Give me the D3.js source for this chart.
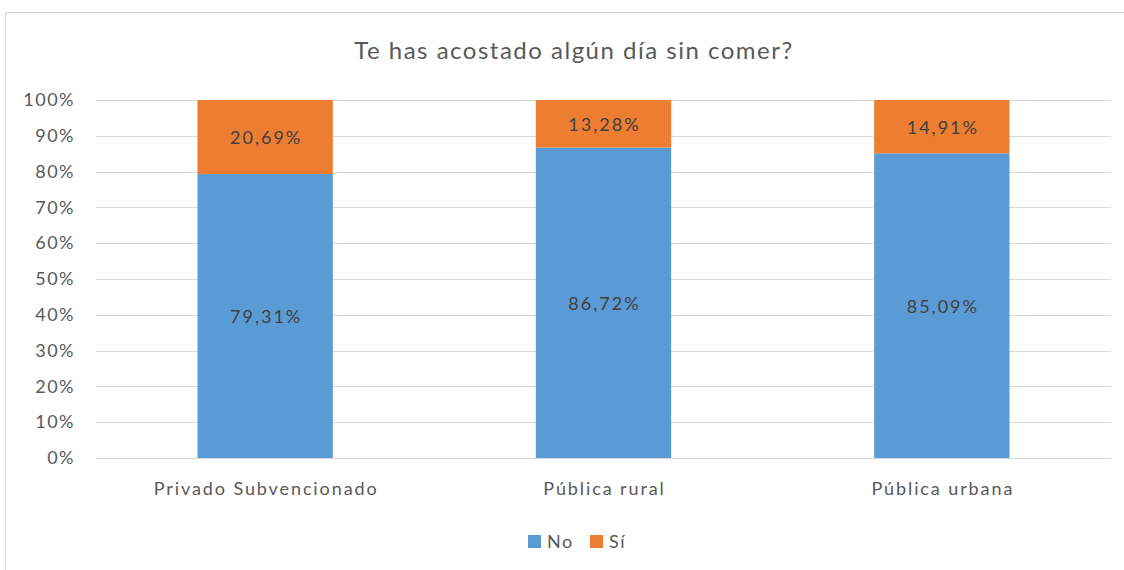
<!DOCTYPE html>
<html>
<head>
<meta charset="utf-8">
<script src="https://cdn.jsdelivr.net/npm/d3@7"></script>
<style>
  body { margin: 0; background: #fff; }
  svg { display: block; font-family: Lato, "Open Sans", sans-serif; }
</style>
</head>
<body>
<div id="chart"></div>
<script>
"use strict";
const categories = ["Privado Subvencionado", "Pública rural", "Pública urbana"];
const seriesNames = ["No", "Sí"];
const noValues = [79.31, 86.72, 85.09];
const siValues = [20.69, 13.28, 14.91];
const yTicks = [0, 10, 20, 30, 40, 50, 60, 70, 80, 90, 100];
const colors = ["#5b9bd5", "#ed7d31"];

const width = 1124, height = 570;
const margin = {left: 96, right: 13, top: 100, bottom: 112};

const svg = d3.select("#chart").append("svg")
    .attr("width", width)
    .attr("height", height);

// chart border
svg.append("rect")
    .attr("x", 5.5).attr("y", 12.5)
    .attr("width", 1130).attr("height", 600)
    .attr("fill", "none")
    .attr("stroke", "#d9d9d9");

svg.append("text")
    .attr("x", 574).attr("y", 59)
    .attr("text-anchor", "middle")
    .attr("fill", "#595959")
    .style("font-size", "24px")
    .style("letter-spacing", "1.5px")
    .text("Te has acostado algún día sin comer?");

const x = d3.scaleBand()
    .domain(categories)
    .range([margin.left, width - margin.right])
    .paddingInner(0.6).paddingOuter(0.3);
const y = d3.scaleLinear().domain([0, 100]).range([height - margin.bottom, margin.top]);

// gridlines
svg.append("g").selectAll("line")
    .data(yTicks)
    .enter().append("line")
    .attr("x1", margin.left).attr("x2", width - margin.right)
    .attr("y1", d => Math.round(y(d)) + 0.5).attr("y2", d => Math.round(y(d)) + 0.5)
    .attr("stroke", "#d9d9d9");

const yAxis = d3.axisLeft(y).tickValues(yTicks).tickFormat(d => d + "%").tickSize(0).tickPadding(21);
const yG = svg.append("g").attr("transform", "translate(" + margin.left + ",0)").call(yAxis);
yG.select(".domain").remove();
yG.selectAll("text").attr("fill", "#595959")
    .style("font-size", "18px").style("font-family", "Lato, sans-serif").style("letter-spacing", "1.5px");

const xAxis = d3.axisBottom(x).tickSize(0).tickPadding(24);
const xG = svg.append("g").attr("transform", "translate(0," + (height - margin.bottom) + ")").call(xAxis);
xG.select(".domain").remove();
xG.selectAll("text").attr("fill", "#595959").attr("dx", "1px")
    .style("font-size", "18px").style("font-family", "Lato, sans-serif").style("letter-spacing", "1.9px");

const stacked = d3.stack().keys([0, 1])(categories.map((c, i) => [noValues[i], siValues[i]]));

stacked.forEach((layer, k) => {
    const g = svg.append("g");
    g.selectAll("rect")
        .data(layer)
        .enter().append("rect")
        .attr("x", (d, i) => x(categories[i]))
        .attr("width", x.bandwidth())
        .attr("y", d => y(d[1]))
        .attr("height", d => y(d[0]) - y(d[1]))
        .attr("fill", colors[k]);
    g.selectAll("text")
        .data(layer)
        .enter().append("text")
        .attr("x", (d, i) => x(categories[i]) + x.bandwidth() / 2 + 1)
        .attr("y", d => (y(d[0]) + y(d[1])) / 2 + 7)
        .attr("text-anchor", "middle")
        .attr("fill", "#404040")
        .style("font-size", "18px")
        .style("letter-spacing", "2px")
        .text(d => (d[1] - d[0]).toFixed(2).replace(".", ",") + "%");
});

// legend
const legend = svg.append("g");
const legendX = [528, 590];
seriesNames.forEach((name, i) => {
    legend.append("rect")
        .attr("x", legendX[i]).attr("y", 535)
        .attr("width", 13).attr("height", 13)
        .attr("fill", colors[i]);
    legend.append("text")
        .attr("x", legendX[i] + 19).attr("y", 548)
        .attr("fill", "#595959")
        .style("font-size", "18px")
        .style("letter-spacing", "1.5px")
        .text(name);
});
</script>
</body>
</html>
